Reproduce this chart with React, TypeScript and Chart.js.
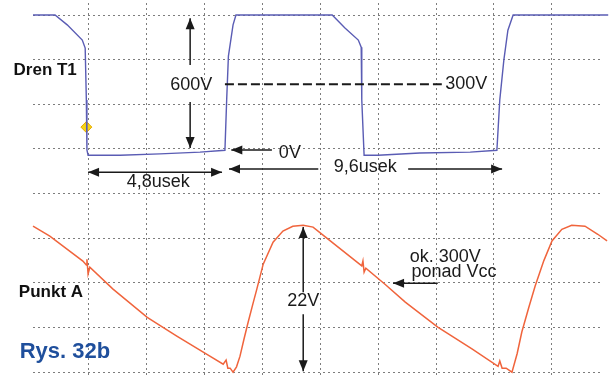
import React, { useEffect, useRef } from "react";
import { Chart, registerables } from "chart.js";

Chart.register(...registerables);

// Units: oscilloscope divisions (x: horizontal div, y: vertical div)
const xGrid = [1, 2, 3, 4, 5, 6, 7, 8, 9];
const yGrid = [0, 1, 2, 3, 4, 5, 6, 7, 8];

// Dren T1 trace (blue)
const drenX = [0.05, 0.43, 0.64, 0.9, 0.95, 0.97, 0.98, 1.0, 1.55, 2.24, 2.93, 3.36, 3.39, 3.42, 3.5, 3.55, 5.21, 5.43, 5.66, 5.71, 5.72, 5.76, 6.0, 6.72, 7.59, 8.05, 8.1, 8.17, 8.24, 8.33, 9.97];
const drenY = [8, 8, 7.78, 7.44, 7.26, 6.1, 4.98, 4.86, 4.86, 4.89, 4.93, 4.97, 6.1, 7.08, 7.78, 8, 8, 7.71, 7.44, 7.28, 6.1, 4.86, 4.86, 4.91, 4.93, 4.97, 6.1, 6.99, 7.66, 8, 8];

// Punkt A trace (orange)
const punktX = [0.05, 0.34, 0.91, 0.97, 0.98, 1.0, 1.03, 1.43, 2.02, 2.53, 3.05, 3.33, 3.38, 3.41, 3.45, 3.5, 3.56, 3.62, 3.69, 3.76, 3.84, 3.91, 4.02, 4.19, 4.36, 4.53, 4.71, 4.88, 5.09, 5.72, 5.74, 5.76, 5.79, 6.12, 6.47, 7.03, 7.62, 8.07, 8.1, 8.14, 8.21, 8.31, 8.4, 8.48, 8.6, 8.71, 8.86, 9.0, 9.17, 9.34, 9.57, 9.79, 9.95];
const punktY = [3.27, 3.05, 2.49, 2.4, 2.53, 2.2, 2.35, 1.86, 1.23, 0.81, 0.4, 0.18, 0.27, 0.09, 0.09, 0.0, 0.12, 0.36, 0.75, 1.12, 1.52, 1.86, 2.42, 2.91, 3.16, 3.27, 3.29, 3.25, 3.03, 2.38, 2.49, 2.24, 2.33, 1.97, 1.57, 1.01, 0.52, 0.13, 0.25, 0.09, 0.09, 0.0, 0.42, 0.9, 1.45, 1.93, 2.5, 2.94, 3.2, 3.29, 3.27, 3.09, 2.94];

// Trigger marker
const triggerX = [0.97];
const triggerY = [5.49];

// Text annotations
const labelTexts = ["Dren T1", "Punkt A", "Rys. 32b", "600V", "300V", "0V", "4,8usek", "9,6usek", "22V", "ok. 300V", "ponad Vcc"];
const labelX = [0.26, 0.36, 0.6, 2.78, 7.52, 4.48, 2.21, 5.78, 4.71, 7.16, 7.31];
const labelY = [6.77, 1.79, 0.45, 6.43, 6.45, 4.91, 4.26, 4.59, 1.59, 2.58, 2.24];
const labelKind = ["name", "name", "fig", "v", "v", "v", "v", "v", "v", "v", "v"];

// Arrows: x1, y1 -> x2, y2 ; head at start / end
const arrowX1 = [2.76, 2.76, 4.17, 1.0, 4.97, 6.52, 4.71, 4.71, 7.03];
const arrowY1 = [6.88, 6.05, 4.98, 4.48, 4.55, 4.55, 1.79, 1.3, 1.99];
const arrowX2 = [2.76, 2.76, 3.47, 3.31, 3.43, 8.14, 4.71, 4.71, 6.26];
const arrowY2 = [7.93, 5.02, 4.98, 4.48, 4.55, 4.55, 3.25, 0.02, 1.99];
const arrowHeadStart = [false, false, false, true, false, false, false, false, false];
const arrowHeadEnd = [true, true, true, true, true, true, true, true, true];

// Dashed 300V reference line
const dashX = [3.36, 7.1];
const dashY = [6.45, 6.45];

const FONT = '"Liberation Sans", Arial, Helvetica, sans-serif';

const annotationPlugin = {
  id: "scopeAnnotations",
  afterDatasetsDraw(chart: any) {
    const { ctx, scales } = chart;
    const xs = scales.x;
    const ys = scales.y;
    const px = (v: number) => xs.getPixelForValue(v);
    const py = (v: number) => ys.getPixelForValue(v);
    ctx.save();
    // dashed line
    ctx.strokeStyle = "#1a1a1a";
    ctx.lineWidth = 2;
    ctx.setLineDash([9, 4]);
    ctx.beginPath();
    ctx.moveTo(px(dashX[0]), py(dashY[0]));
    ctx.lineTo(px(dashX[1]), py(dashY[1]));
    ctx.stroke();
    ctx.setLineDash([]);

    const head = (x: number, y: number, ang: number) => {
      const L = 11;
      const W = 4.5;
      ctx.beginPath();
      ctx.moveTo(x, y);
      ctx.lineTo(x - L * Math.cos(ang) + W * Math.sin(ang), y - L * Math.sin(ang) - W * Math.cos(ang));
      ctx.lineTo(x - L * Math.cos(ang) - W * Math.sin(ang), y - L * Math.sin(ang) + W * Math.cos(ang));
      ctx.closePath();
      ctx.fill();
    };
    ctx.fillStyle = "#1a1a1a";
    ctx.lineWidth = 1.5;
    for (let i = 0; i < arrowX1.length; i++) {
      const x1 = px(arrowX1[i]);
      const y1 = py(arrowY1[i]);
      const x2 = px(arrowX2[i]);
      const y2 = py(arrowY2[i]);
      ctx.beginPath();
      ctx.moveTo(x1, y1);
      ctx.lineTo(x2, y2);
      ctx.stroke();
      const ang = Math.atan2(y2 - y1, x2 - x1);
      if (arrowHeadEnd[i]) head(x2, y2, ang);
      if (arrowHeadStart[i]) head(x1, y1, ang + Math.PI);
    }

    ctx.textAlign = "center";
    ctx.textBaseline = "middle";
    for (let i = 0; i < labelTexts.length; i++) {
      const k = labelKind[i];
      if (k === "name") {
        ctx.font = `bold 17px ${FONT}`;
        ctx.fillStyle = "#111111";
      } else if (k === "fig") {
        ctx.font = `bold 22px ${FONT}`;
        ctx.fillStyle = "#1f4f9c";
      } else {
        ctx.font = `18px ${FONT}`;
        ctx.fillStyle = "#1a1a1a";
      }
      ctx.fillText(labelTexts[i], px(labelX[i]), py(labelY[i]));
    }
    ctx.restore();
  },
};

export default function App() {
  const ref = useRef<HTMLCanvasElement | null>(null);
  useEffect(() => {
    if (!ref.current) return;
    const toPts = (xa: number[], ya: number[]) => xa.map((x, i) => ({ x, y: ya[i] }));
    const chart = new Chart(ref.current, {
      type: "line",
      data: {
        datasets: [
          {
            label: "Dren T1",
            data: toPts(drenX, drenY),
            borderColor: "#5a5cb4",
            borderWidth: 1.4,
            pointRadius: 0,
            pointHoverRadius: 0,
            tension: 0,
            clip: false as any,
          },
          {
            label: "Punkt A",
            data: toPts(punktX, punktY),
            borderColor: "#f0643c",
            borderWidth: 1.5,
            pointRadius: 0,
            pointHoverRadius: 0,
            tension: 0,
            clip: false as any,
          },
          {
            label: "trigger",
            data: toPts(triggerX, triggerY),
            showLine: false,
            pointStyle: "rectRot",
            pointRadius: 5.5,
            backgroundColor: "#f7d417",
            borderColor: "#e5a800",
            borderWidth: 1,
            clip: false as any,
          },
        ],
      },
      options: {
        animation: false,
        responsive: false,
        maintainAspectRatio: false,
        layout: { autoPadding: false, padding: { left: 33, right: 12, top: 3, bottom: 0 } },
        plugins: { legend: { display: false }, tooltip: { enabled: false } },
        scales: {
          x: {
            type: "linear",
            min: 0.05,
            max: 9.88,
            ticks: { display: false },
            grid: { color: "#7d7d7d", lineWidth: 1, drawTicks: false },
            border: { display: false, dash: [2, 3] },
            afterBuildTicks: (axis: any) => {
              axis.ticks = xGrid.map((v) => ({ value: v }));
            },
            afterFit: (axis: any) => {
              axis.height = 0;
            },
          },
          y: {
            type: "linear",
            min: -0.13,
            max: 8.27,
            ticks: { display: false },
            grid: { color: "#7d7d7d", lineWidth: 1, drawTicks: false },
            border: { display: false, dash: [2, 3] },
            afterBuildTicks: (axis: any) => {
              axis.ticks = yGrid.map((v) => ({ value: v }));
            },
            afterFit: (axis: any) => {
              axis.width = 0;
            },
          },
        },
      },
      plugins: [annotationPlugin],
    });
    return () => chart.destroy();
  }, []);
  return (
    <div style={{ position: "fixed", left: 0, top: 0, width: 615, height: 378, background: "#ffffff" }}>
      <canvas ref={ref} width={615} height={378} style={{ display: "block", width: 615, height: 378 }} />
    </div>
  );
}
